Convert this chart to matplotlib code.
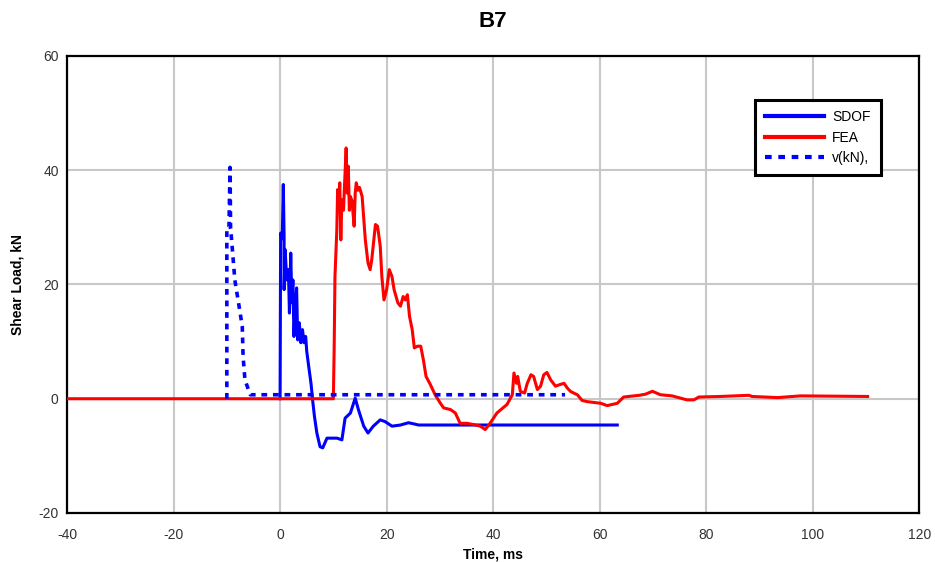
import numpy as np
import matplotlib
matplotlib.use("Agg")
from matplotlib import pyplot as plt

plt.rcParams['font.family'] = ['Liberation Sans', 'DejaVu Sans']
plt.rcParams['axes.unicode_minus'] = False

# SDOF response (solid blue)
sdof_t = [0.0, 0.0, 0.1, 0.4, 0.6, 0.75, 0.75, 0.94, 1.25, 1.56, 1.75, 2.0, 2.2, 2.4, 2.6, 2.8,
          3.1, 3.3, 3.6, 3.9, 4.2, 4.5, 4.8, 5.0, 5.45, 5.8, 6.1, 6.45, 6.9, 7.5, 8.0, 8.8,
          10.7, 11.6, 12.2, 13.2, 14.1, 14.7, 15.7, 16.5, 17.5, 18.8, 19.7, 21.0, 22.6, 24.1,
          25.1, 26.0, 63.3]
sdof_v = [0.0, 0.1, 29.0, 28.0, 37.5, 28.4, 19.1, 26.1, 20.8, 22.6, 15.0, 25.5, 16.8, 20.8, 10.9, 15.6,
          19.4, 10.3, 13.3, 9.8, 12.1, 9.8, 10.9, 8.3, 5.1, 2.7, -0.2, -3.1, -6.0, -8.4, -8.6, -6.9,
          -6.9, -7.2, -3.4, -2.5, 0.1, -1.9, -4.8, -6.0, -4.8, -3.7, -4.0, -4.8, -4.6, -4.2,
          -4.4, -4.6, -4.6]

# FEA response (solid red)
fea_t = [-40.0, 10.0, 10.15, 10.3, 10.65, 10.8, 11.0, 11.2, 11.4, 11.6, 11.9, 12.1, 12.4, 12.6, 12.8,
         13.0, 13.2, 13.5, 13.9, 14.1, 14.3, 14.6, 14.9, 15.4, 16.0, 16.5, 16.9, 17.2, 17.9, 18.3,
         18.8, 19.1, 19.5, 20.0, 20.5, 21.0,
         21.4, 22.1, 22.6, 23.1, 23.5, 23.9, 24.3, 24.8, 25.2, 25.8, 26.4, 26.9, 27.4, 28.2, 29.1,
         30.1, 30.7, 32.0, 32.9, 33.8, 35.1, 36.7, 37.6, 38.5, 39.2, 40.7, 42.6, 43.6, 43.9, 44.4,
         44.6, 45.1, 45.9, 46.4, 47.1, 47.6, 48.3, 48.9, 49.5, 50.1, 50.8, 51.7, 52.6, 53.3, 53.9,
         54.5, 55.1, 55.8, 56.7, 57.6, 60.2, 61.4, 63.3, 64.5, 67.4, 68.6, 69.9, 71.4, 73.6, 75.2,
         76.4, 77.7, 78.6, 82.7, 88.0, 88.6, 93.4, 97.7, 110.3]
fea_v = [0.0, 0.0, 8.9, 21.4, 29.6, 36.6, 34.0, 37.8, 27.8, 34.8, 33.0, 37.5, 43.9, 36.0, 40.7,
         33.0, 35.4, 34.6, 30.2, 36.0, 37.8, 36.5, 37.0, 35.4, 27.8, 23.8, 22.6, 24.3, 30.5, 30.2,
         26.7, 21.4, 17.3, 19.1, 22.6, 21.4,
         19.1, 16.8, 16.2, 17.9, 17.3, 18.2, 14.4, 12.1, 8.9, 9.2, 9.2, 6.8, 3.9, 2.5, 0.7,
         -0.8, -1.6, -1.9, -2.5, -4.3, -4.3, -4.6, -4.8, -5.4, -4.6, -2.5, -1.0, 0.7, 4.5, 2.7,
         3.9, 1.3, 1.0, 2.7, 4.2, 3.9, 1.6, 2.2, 4.2, 4.6, 3.3, 2.2, 2.5, 2.7, 1.9,
         1.3, 1.0, 0.7, -0.3, -0.5, -0.8, -1.2, -0.8, 0.3, 0.6, 0.8, 1.3, 0.7, 0.5, 0.1,
         -0.2, -0.2, 0.3, 0.4, 0.6, 0.4, 0.2, 0.5, 0.4]

# applied shear v(kN) (dotted blue)
load_t = [-10.0, -10.0, -9.6, -9.4, -9.3, -9.0, -8.5, -7.5, -7.1, -6.95, -6.6, -5.6, 53.5]
load_v = [0.0, 30.0, 30.0, 40.5, 30.0, 26.6, 20.8, 15.0, 12.6, 7.4, 3.3, 0.7, 0.7]

x_ticks = [-40, -20, 0, 20, 40, 60, 80, 100, 120]
y_ticks = [-20, 0, 20, 40, 60]

fig = plt.figure(figsize=(9.35, 5.62), dpi=100)
ax = fig.add_axes([0.0717, 0.0872, 0.9115, 0.8132])

ax.plot(sdof_t, sdof_v, color='#0000ff', lw=2.2, label='SDOF', zorder=3)
ax.plot(fea_t, fea_v, color='#ff0000', lw=2.2, label='FEA', zorder=4)
ax.plot(load_t, load_v, color='#0000ff', lw=2.6, ls=(0, (1.6, 1.6)), label='v(kN),', zorder=5)

ax.set_xlim(-40, 120)
ax.set_ylim(-20, 60)
ax.set_xticks(x_ticks)
ax.set_yticks(y_ticks)
ax.grid(True, color='#c8c8c8', lw=1.5)
ax.set_axisbelow(True)
ax.tick_params(length=0, labelsize=10, colors='#333333')
ax.tick_params(axis='x', pad=11)
ax.tick_params(axis='y', pad=6)
for lab in ax.get_xticklabels() + ax.get_yticklabels():
    lab.set_family(['Liberation Sans Narrow', 'Liberation Sans'])
for s in ax.spines.values():
    s.set_linewidth(1.6)
    s.set_color('black')

ax.set_title('B7', fontsize=16, fontweight='bold', pad=21)
ax.set_xlabel('Time, ms', fontsize=10, fontweight='bold', labelpad=4)
ax.set_ylabel('Shear Load, kN', fontsize=10, fontweight='bold', labelpad=10)

leg = ax.legend(loc='upper left', bbox_to_anchor=(0.807, 0.904), fancybox=False,
                edgecolor='black', framealpha=1, fontsize=10, handlelength=4.2,
                borderpad=0.75, labelspacing=0.45, borderaxespad=0, handletextpad=0.6)
leg.get_frame().set_linewidth(2.2)
for h in leg.get_lines():
    h.set_linewidth(3)

fig.savefig('out.png', dpi=100)
